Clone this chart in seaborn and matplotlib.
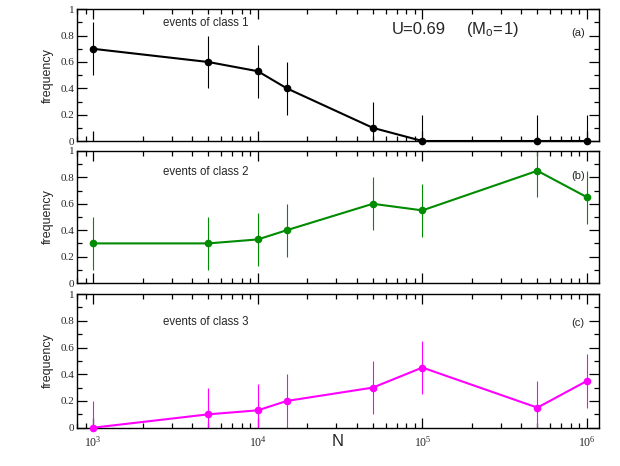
import numpy as np
import pandas as pd
import seaborn as sns
import matplotlib.pyplot as plt
from matplotlib.ticker import LogLocator, MultipleLocator, NullFormatter

N_values = [1e3, 5e3, 1e4, 1.5e4, 5e4, 1e5, 5e5, 1e6]
class1 = [0.70, 0.60, 0.53, 0.40, 0.10, 0.0, 0.0, 0.0]
class2 = [0.30, 0.30, 0.33, 0.40, 0.60, 0.55, 0.85, 0.65]
class3 = [0.0, 0.10, 0.13, 0.20, 0.30, 0.45, 0.15, 0.35]
err1 = [0.2, 0.2, 0.2, 0.2, 0.2, 0.2, 0.2, 0.2]
err2 = [0.2, 0.2, 0.2, 0.2, 0.2, 0.2, 0.2, 0.2]
err3 = [0.2, 0.2, 0.2, 0.2, 0.2, 0.2, 0.2, 0.2]
labels = ["events of class 1", "events of class 2", "events of class 3"]
panel_tags = ["(a)", "(b)", "(c)"]
colors = ["black", "#008b00", "#ff00ff"]

sns.set_style("ticks")
plt.rcParams['font.family'] = ['Liberation Sans', 'DejaVu Sans']
plt.rcParams['mathtext.fontset'] = 'custom'
plt.rcParams['mathtext.rm'] = 'Liberation Sans'
plt.rcParams['mathtext.it'] = 'Liberation Sans'

fig = plt.figure(figsize=(6.2, 4.66), dpi=100)
# (bottom, top) of each panel in figure fraction
boxes = [(0.6974, 0.980), (0.3927, 0.676), (0.0822, 0.369)]
series = [class1, class2, class3]
errs = [err1, err2, err3]
label_y = [0.896, 0.84, 0.79]
tag_y = [0.82, 0.81, 0.78]

for i in range(3):
    bot, top = boxes[i]
    ax = fig.add_axes([0.1247, bot, 0.842, top - bot])
    df = pd.DataFrame({"N": N_values, "freq": series[i], "err": errs[i]})
    ax.vlines(df.N, df.freq - df.err, df.freq + df.err, color=colors[i], lw=0.8, zorder=2)
    sns.lineplot(data=df, x="N", y="freq", ax=ax, color=colors[i], lw=1.5,
                 marker="o", markersize=5.5, markeredgewidth=0, zorder=3, clip_on=False)
    ax.set_xscale("log")
    ax.set_xlim(800, 1.19e6)
    ax.set_ylim(0, 1)
    ax.yaxis.set_minor_locator(MultipleLocator(0.1))
    ax.xaxis.set_major_locator(LogLocator(base=10))
    ax.xaxis.set_minor_locator(LogLocator(base=10, subs=np.arange(2, 10)))
    ax.xaxis.set_minor_formatter(NullFormatter())
    ax.tick_params(which="both", direction="in", top=True, right=True, width=0.9, color="black")
    ax.tick_params(which="major", length=7)
    ax.tick_params(which="minor", length=3.5)
    ax.set_yticks([0, 0.2, 0.4, 0.6, 0.8, 1])
    ax.set_yticklabels(["0", "0.2", "0.4", "0.6", "0.8", "1"], family="Liberation Serif", fontsize=8)
    ax.tick_params(axis="y", pad=2)
    if i < 2:
        ax.set_xticklabels([])
        ax.set_xlabel("")
    else:
        for lab in ax.get_xticklabels():
            lab.set_family("Liberation Serif")
            lab.set_fontsize(8.5)
        ax.tick_params(axis="x", pad=5)
        ax.set_xlabel("N", fontsize=12, va="center")
        ax.xaxis.set_label_coords(0.4995, -0.107)
    ax.set_ylabel("frequency", fontsize=9, va="center")
    ax.yaxis.set_label_coords(-0.0556, 0.5)
    for sp in ax.spines.values():
        sp.set_linewidth(1.0)
        sp.set_color("black")
    ax.text(0.164, label_y[i], labels[i], transform=ax.transAxes, fontsize=8.3,
            va="center", ha="left")
    ax.text(0.959, tag_y[i], panel_tags[i], transform=ax.transAxes, fontsize=8,
            va="center", ha="center")
    if i == 0:
        ax.text(0.602, 0.843, "U=0.69", transform=ax.transAxes, fontsize=12, va="center")
        ax.text(0.745, 0.843, r"$\mathregular{(M_o\!=\!1)}$", transform=ax.transAxes,
                fontsize=12, va="center")

fig.savefig("out.png", dpi=100)
